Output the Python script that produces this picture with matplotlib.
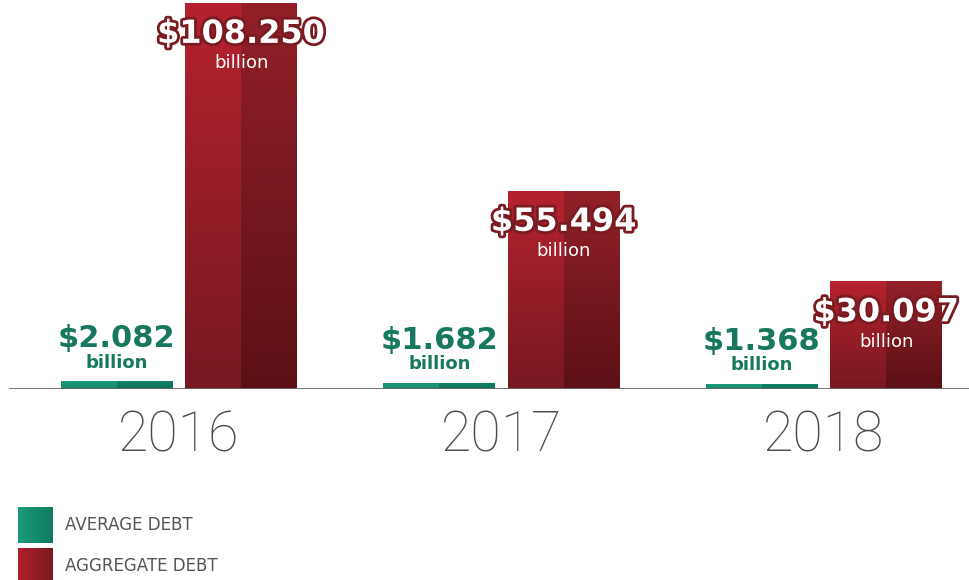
import numpy as np
import matplotlib.pyplot as plt
import matplotlib.patheffects as pe
from matplotlib.colors import LinearSegmentedColormap

years = ['2016', '2017', '2018']
average_debt = [2.082, 1.682, 1.368]
aggregate_debt = [108.250, 55.494, 30.097]
legend_labels = ['AVERAGE DEBT', 'AGGREGATE DEBT']

W, H, DPI = 969, 580, 100
base_px = 389

fig = plt.figure(figsize=(W / DPI, H / DPI), dpi=DPI)
ax = fig.add_axes([0, (H - base_px) / H, 1, base_px / H])
ax.axis('off')

x = np.arange(len(years))
bw = 0.347
off = 0.193

green_l = LinearSegmentedColormap.from_list('gl', ['#168a6c', '#1b9a78'])
green_r = LinearSegmentedColormap.from_list('gr', ['#0d7258', '#12806a'])
red_l = LinearSegmentedColormap.from_list('rl', ['#761820', '#b5222e'])
red_r = LinearSegmentedColormap.from_list('rr', ['#5c1016', '#932029'])

grad = np.linspace(0, 1, 256).reshape(-1, 1)


def gradient_bars(bars, cm_left, cm_right):
    for b in bars:
        x0, w, h = b.get_x(), b.get_width(), b.get_height()
        ax.imshow(grad, cmap=cm_left, origin='lower', aspect='auto',
                  extent=[x0, x0 + w / 2, 0, h], zorder=2)
        ax.imshow(grad, cmap=cm_right, origin='lower', aspect='auto',
                  extent=[x0 + w / 2, x0 + w, 0, h], zorder=2)
        b.set_visible(False)


g_bars = ax.bar(x - off, average_debt, bw, color='#168a6c')
r_bars = ax.bar(x + off, aggregate_debt, bw, color='#9a1e28')
gradient_bars(g_bars, green_l, green_r)
gradient_bars(r_bars, red_l, red_r)
ax.set_xlim(-0.555, 2.45)
ax.set_ylim(0, 109.2)

ax.axhline(0, xmin=10 / W, xmax=1, color='#666666', lw=2, zorder=3)

# value labels
for xi, v in zip(x, average_debt):
    ax.annotate('$%.3f' % v, (xi - off, v), xytext=(0, 43), textcoords='offset pixels',
                ha='center', va='center', fontsize=22, fontweight='bold', color='#17785f')
    ax.annotate('billion', (xi - off, v), xytext=(0, 19), textcoords='offset pixels',
                ha='center', va='center', fontsize=13, fontweight='bold', color='#17785f')

outline = [pe.Stroke(linewidth=4, foreground='#7a1a22'), pe.Normal()]
for xi, v in zip(x, aggregate_debt):
    ax.annotate('$%.3f' % v, (xi + off, v), xytext=(0, -31), textcoords='offset pixels',
                ha='center', va='center', fontsize=23, fontweight='bold', color='white',
                path_effects=outline, zorder=5, annotation_clip=False)
    ax.annotate('billion', (xi + off, v), xytext=(0, -60), textcoords='offset pixels',
                ha='center', va='center', fontsize=13, color='white', zorder=5,
                annotation_clip=False)

# year labels
for xi, yr in zip(x, years):
    ax.annotate(yr, (xi, 0), xytext=(0, -47), textcoords='offset pixels',
                ha='center', va='center', fontsize=40, family='Roboto', fontweight='light',
                color='#4d4d4d', annotation_clip=False)

# legend
leg_cols = [LinearSegmentedColormap.from_list('lg', ['#1a9c7a', '#0f7a60']),
            LinearSegmentedColormap.from_list('lr', ['#b2202c', '#7a1820'])]
lax = fig.add_axes([0, 0, 1, 1], zorder=-1)
lax.axis('off')
hgrad = np.linspace(0, 1, 256).reshape(1, -1)
for i, (lab, cm) in enumerate(zip(legend_labels, leg_cols)):
    y0 = 507 + i * 41
    lax.imshow(hgrad, cmap=cm, aspect='auto', extent=[18, 53, y0 + 36, y0])
    lax.text(65, y0 + 18, lab, ha='left', va='center', fontsize=12,
             color='#555555')
lax.set_xlim(0, W)
lax.set_ylim(H, 0)

fig.savefig('out.png', dpi=DPI)
